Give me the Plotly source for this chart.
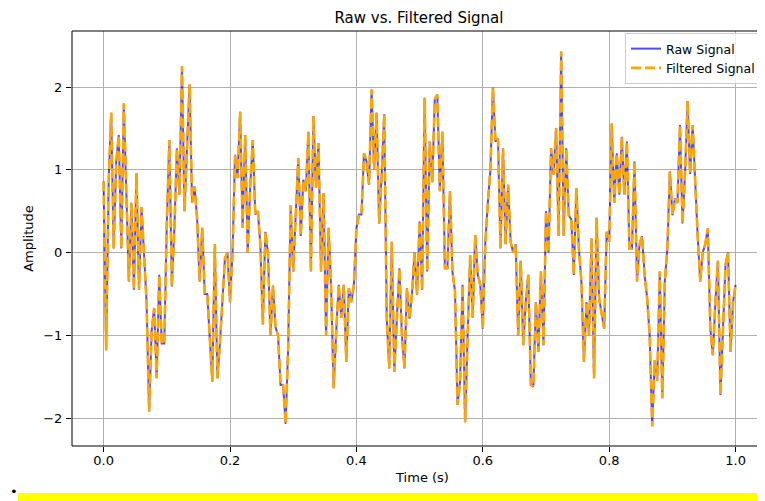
import numpy as np
import plotly.graph_objects as go

raw_signal = [
    0.86, -1.18, 0.85, 1.69, 0.05, 1.1, 1.42, 0.05, 1.8, 0.6,
    -0.35, 0.6, -0.45, 0.96, -0.45, 0.55, 0.0, -0.6, -1.92, -0.95,
    -0.67, -1.52, -0.27, -1.1, -1.1, 0.35, 1.36, -0.41, 0.3, 1.26,
    0.7, 2.25, 0.5, 1.3, 2.03, 0.6, 0.8, 0.4, -0.35, 0.3,
    -0.5, -0.5, -1.0, -1.56, 0.1, -1.52, -1.1, -0.5, -0.07, 0.0,
    -0.6, 0.0, 1.18, 0.9, 1.7, 0.3, 1.42, 0.0, 0.8, 1.36,
    0.46, 0.5, 0.1, -0.87, 0.25, 0.0, -1.0, -0.4, -0.9, -1.0,
    -1.6, -1.6, -2.07, -1.16, 0.57, -0.23, 0.5, 1.14, 0.2, 0.88,
    0.74, 1.46, -0.23, 1.65, 0.78, 1.32, -0.23, 0.72, -1.0, 0.3,
    -0.43, -1.64, -0.96, -0.39, -0.79, -0.39, -1.32, -0.43, -0.6, -0.39,
    0.29, 0.46, 0.46, 1.2, 1.1, 0.82, 1.97, 1.0, 1.69, 0.35,
    0.94, 1.67, -0.8, -1.4, 0.13, -1.44, -0.8, -0.19, -1.0, -1.4,
    -0.43, -0.8, -0.5, 0.0, -0.51, 0.375, -0.45, 1.87, -0.23, 1.34,
    0.85, 1.85, 1.91, 0.74, 1.46, -0.19, -0.19, 0.74, -0.23, -0.47,
    -1.84, -1.56, -0.39, -2.05, -1.0, -0.03, -0.79, 0.21, -0.27, -0.39,
    -0.92, 0.13, 0.6, 1.0, 1.99, 1.34, 1.38, 0.05, 1.26, 0.1,
    0.82, 0.13, 0.0, 0.1, -1.0, -0.1, -1.12, -0.6, -0.27, -1.6,
    -1.62, -0.6, -1.2, -0.23, -1.12, 0.5, 0.0, 1.26, 0.94, 1.5,
    0.2, 2.43, 0.2, 1.26, 0.45, 0.4, -0.27, 0.78, 0.05, -0.35,
    -1.32, -0.6, -1.0, 0.17, -1.52, 0.42, -0.55, -0.75, -0.92, 0.25,
    0.13, 1.56, 0.6, 1.2, 0.7, 1.4, 0.7, 1.34, 0.05, 0.05,
    1.1, -0.35, 0.1, 0.2, -0.27, -0.55, -1.0, -2.1, -1.3, -1.55,
    -0.23, -1.76, -0.35, 0.05, 0.98, 0.45, 0.65, 0.6, 1.54, 0.35,
    0.95, 1.83, 0.95, 1.54, 0.8, 0.2, -0.35, 0.0, 0.1, 0.29,
    -0.92, -1.24, -0.6, -0.1, -1.72, -0.8, -0.15, 0.0, -1.2, -0.6,
    -0.39,
]
# The filtered trace lies on top of the raw trace in the picture
filtered_signal = list(raw_signal)
time_s = np.linspace(0.0, 1.0, len(raw_signal))

x_tick_vals = [0.0, 0.2, 0.4, 0.6, 0.8, 1.0]
x_tick_text = ["0.0", "0.2", "0.4", "0.6", "0.8", "1.0"]
y_tick_vals = [-2, -1, 0, 1, 2]
y_tick_text = ["\u22122", "\u22121", "0", "1", "2"]

FONT = "DejaVu Sans"

# the page body adds an 8px offset, margins below compensate for it
ML, MT, MB = 64, 23, 63
PW = 765 - ML          # plot width in px
PH = 501 - MT - MB     # plot height in px

fig = go.Figure()
fig.add_trace(go.Scatter(
    x=time_s, y=raw_signal, mode="lines", name="Raw Signal",
    line=dict(color="rgba(0,0,255,0.7)", width=2),
))
fig.add_trace(go.Scatter(
    x=time_s, y=filtered_signal, mode="lines", name="Filtered Signal",
    line=dict(color="#FFA500", width=2.6, dash="10px,4px"),
))

axis_common = dict(
    showgrid=True, gridcolor="#b0b0b0", gridwidth=1,
    zeroline=False, showline=False,
    ticks="outside", ticklen=5, tickwidth=1, tickcolor="black",
    tickfont=dict(family=FONT, size=13, color="black"),
)

fig.update_layout(
    width=765, height=501, autosize=False,
    margin=dict(l=ML, r=0, t=MT, b=MB),
    paper_bgcolor="white", plot_bgcolor="white",
    font=dict(family=FONT, color="black"),
    title=dict(text="Raw vs. Filtered Signal", x=(419 - 8 - ML) / PW, xref="paper",
               xanchor="center",
               y=1 - 10 / 501, yref="container", yanchor="middle",
               font=dict(family=FONT, size=15, color="black")),
    xaxis=dict(range=[-0.05, -0.05 + PW / 632], tickvals=x_tick_vals, ticktext=x_tick_text,
               ticklabelstandoff=-3,
               title=dict(text="Time (s)", font=dict(family=FONT, size=13), standoff=6),
               **axis_common),
    yaxis=dict(range=[-2.338, 2.677], tickvals=y_tick_vals, ticktext=y_tick_text,
               ticklabelstandoff=1,
               title=dict(text="Amplitude", font=dict(family=FONT, size=13), standoff=6),
               **axis_common),
    legend=dict(x=(753 - ML) / PW, y=1 - 2 / PH, xanchor="right", yanchor="top",
                bgcolor="rgba(255,255,255,0.8)", bordercolor="#cccccc", borderwidth=1,
                font=dict(family=FONT, size=12.5, color="black"),
                itemwidth=30, tracegroupgap=0),
    showlegend=True,
)

# spines (left, bottom, top) like matplotlib; right one falls off the canvas
for x0, y0, x1, y1 in [(0, 0, 0, 1), (0, 0, 1, 0), (0, 1, 1, 1)]:
    fig.add_shape(type="line", xref="paper", yref="paper", x0=x0, y0=y0, x1=x1, y1=y1,
                  line=dict(color="black", width=1), layer="above")

# page artefact below the chart: bullet and yellow bar
base = 501 - MB
fig.add_shape(type="rect", xref="paper", yref="paper",
              x0=(10 - ML) / PW, x1=1.0, y0=(base - 500) / PH, y1=(base - 485) / PH,
              fillcolor="yellow", line=dict(width=0), layer="above")
fig.add_annotation(x=(6 - ML) / PW, y=(base - 483) / PH, xref="paper", yref="paper",
                   text="\u2022", showarrow=False, font=dict(family=FONT, size=13, color="black"),
                   xanchor="center", yanchor="middle")

fig.write_html("out.html")
